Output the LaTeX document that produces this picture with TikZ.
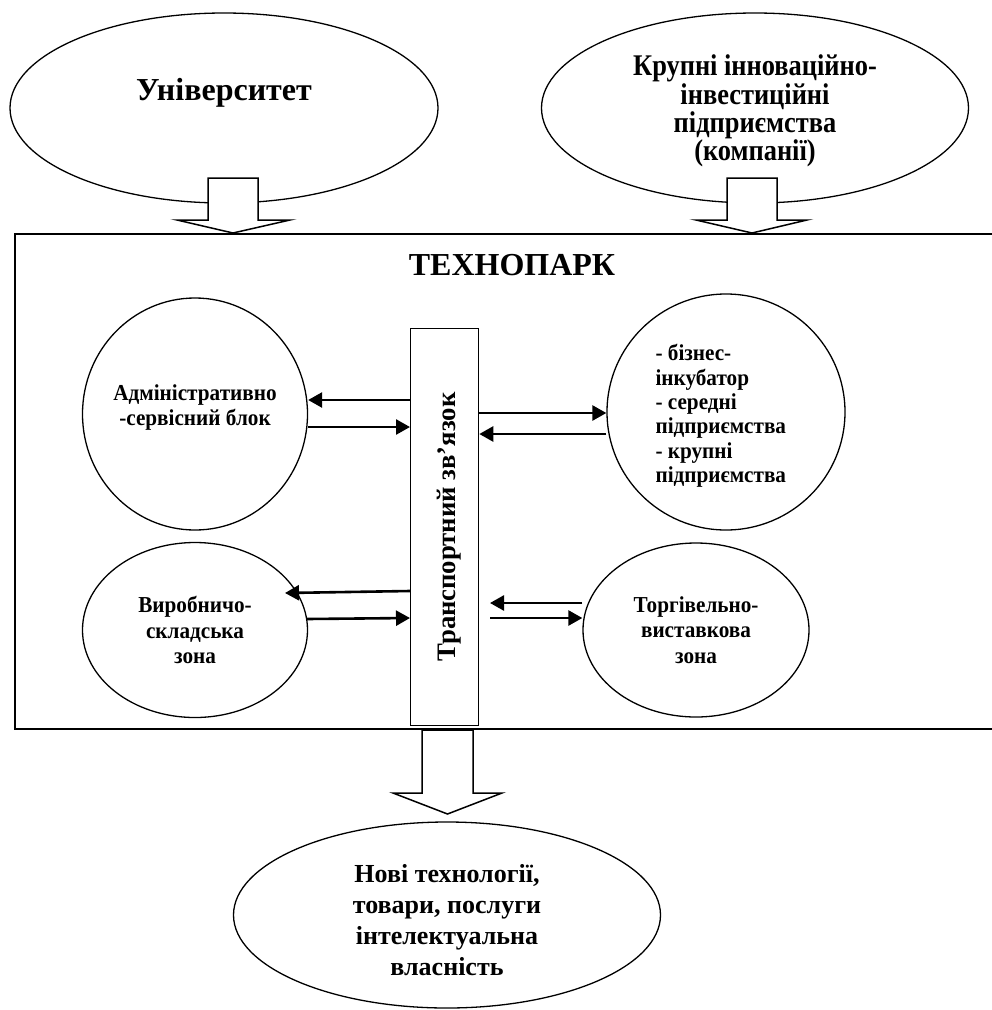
\documentclass[tikz,border=0pt]{standalone}
\usepackage{fontspec}
\setmainfont{Liberation Serif}
\newfontfamily\condA[FakeStretch=0.88]{Liberation Serif}
\newfontfamily\condB[FakeStretch=0.93]{Liberation Serif}
\usetikzlibrary{shapes.geometric,arrows.meta}
\begin{document}
\begin{tikzpicture}[x=1pt,y=-1pt,
  ell/.style={draw,ellipse,line width=1.3pt,inner sep=0pt,align=center},
  inner/.style={font=\condB\bfseries\fontsize{22.8}{25}\selectfont},
  arr/.style={line width=2.6pt,-{Triangle[length=14pt,width=15pt]}},
  block/.style={draw,fill=white,line width=1.5pt,line join=miter}]
\clip (0,0) rectangle (992,1010);
\fill[white] (0,0) rectangle (992,1010);
% top ellipses
\node[ell,minimum width=428pt,minimum height=190pt] (univ) at (224,108) {};
\node[font=\bfseries\fontsize{32}{34}\selectfont] (univt) at (224,93) {Університет};
\node[ell,minimum width=427pt,minimum height=190pt] (comp) at (755,108) {};
\node[align=center,font=\condA\bfseries\fontsize{30}{28.3}\selectfont] (compt) at (755,111)
  {Крупні інноваційно-\\інвестиційні\\підприємства\\(компанії)};
% technopark rectangle
\node[draw,line width=1.6pt,minimum width=1000pt,minimum height=495pt,anchor=north west,inner sep=0pt] (park) at (14,233) {};
\node[font=\bfseries\fontsize{32}{34}\selectfont] (parkt) at (512,265) {ТЕХНОПАРК};
% block arrows
\draw[block] (208,178) -- (258,178) -- (258,220) -- (290,220) -- (233,233) -- (177,220) -- (208,220) -- cycle;
\draw[block] (727,178) -- (777,178) -- (777,220) -- (807,220) -- (752,233) -- (696,220) -- (727,220) -- cycle;
% transport box
\node[draw,line width=1.3pt,minimum width=68pt,minimum height=397pt,anchor=north west,inner sep=0pt] (tr) at (410,328) {};
\node[rotate=90,font=\bfseries\fontsize{26.7}{28}\selectfont] (trt) at (449,527) {Транспортний зв’язок};
% inner ellipses
\node[ell,minimum width=225pt,minimum height=232pt] (admin) at (195,414) {};
\node[inner,align=center] (admint) at (195,408) {Адміністративно\\-сервісний блок};
\node[ell,minimum width=238pt,minimum height=236pt] (biz) at (726,412) {};
\node[inner,align=left,anchor=west,font=\condB\bfseries\fontsize{22.8}{24.4}\selectfont] (bizt) at (652,416) {- бізнес-\\інкубатор\\- середні\\підприємства\\- крупні\\підприємства};
\node[ell,inner,minimum width=225pt,minimum height=175pt,font=\condB\bfseries\fontsize{22.8}{25.5}\selectfont] (vyrob) at (195,630) {Виробничо-\\складська\\зона};
\node[ell,inner,minimum width=226pt,minimum height=174pt,font=\condB\bfseries\fontsize{22.8}{25.5}\selectfont] (torg) at (696,630) {Торгівельно-\\виставкова\\зона};
% thin arrows
\draw[arr] (tr.west |- 0,400) -- (admin.east |- 0,400);
\draw[arr] (admin.east |- 0,427) -- (tr.west |- 0,427);
\draw[arr] (tr.east |- 0,413) -- (biz.west |- 0,413);
\draw[arr] (biz.west |- 0,434) -- (tr.east |- 0,434);
\coordinate (vtip) at (285,593);
\coordinate (vst) at (307,619);
\draw[arr] (tr.west |- 0,591) -- (vtip);
\draw[arr] (vst) -- (tr.west |- 0,618);
\coordinate (tl) at (490,603);
\coordinate (tr2) at (490,618);
\draw[arr] (torg.west |- 0,603) -- (tl);
\draw[arr] (tr2) -- (torg.west |- 0,618);
% bottom
\draw[block] (422,730) -- (473,730) -- (473,793) -- (502,793) -- (447.5,814) -- (393,793) -- (422,793) -- cycle;
\node[ell,minimum width=427pt,minimum height=186pt] (out) at (447,915) {};
\node[align=center,font=\bfseries\fontsize{26}{31}\selectfont] (outt) at (447,920)
  {Нові технології,\\товари, послуги\\інтелектуальна\\власність};
\end{tikzpicture}
\end{document}
